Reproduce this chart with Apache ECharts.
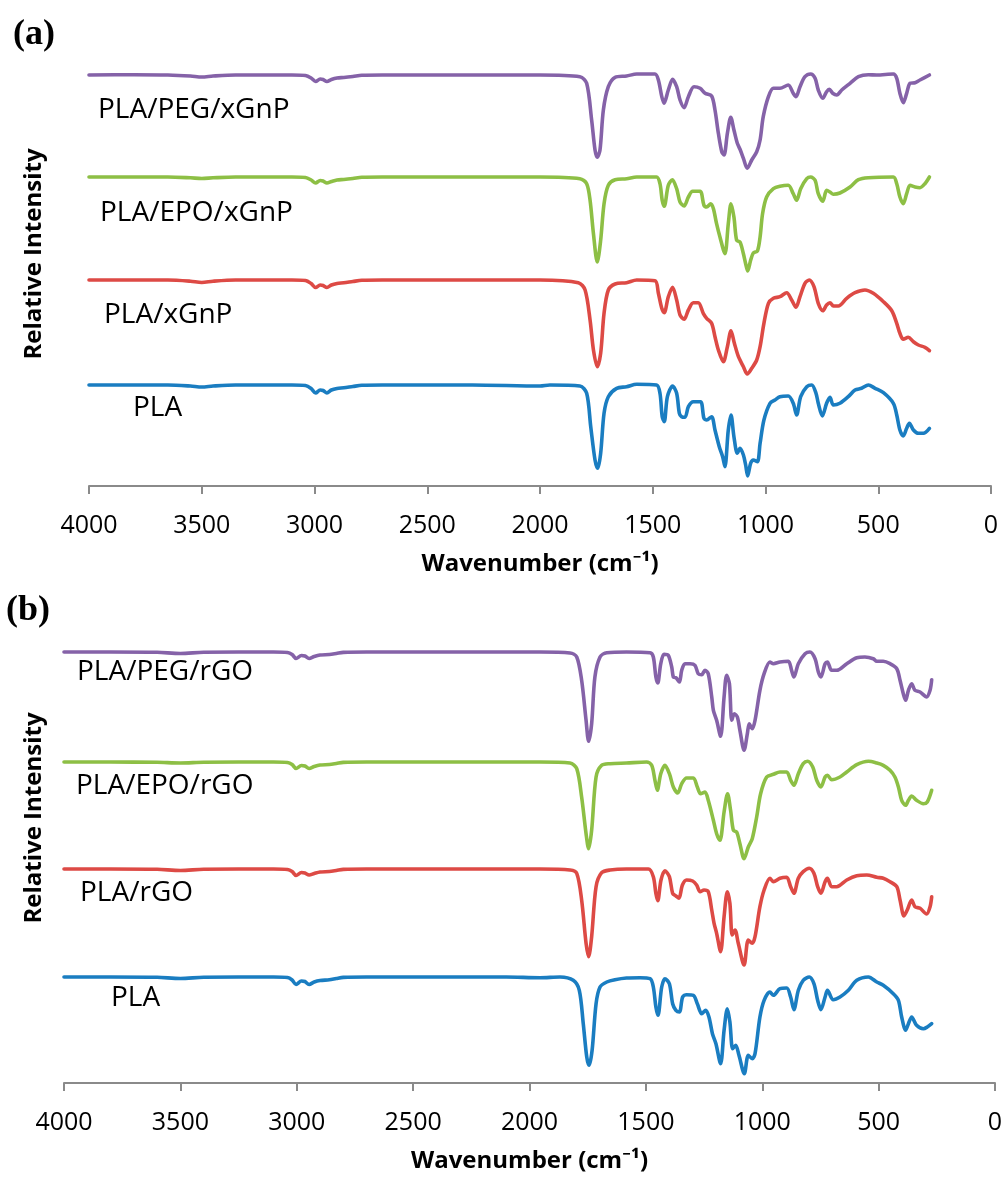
<!DOCTYPE html>
<html>
<head>
<meta charset="utf-8">
<script src="https://cdn.jsdelivr.net/npm/echarts@6/dist/echarts.min.js"></script>
<style>
  html, body { margin: 0; padding: 0; background: #fff; }
  #chart { width: 1006px; height: 1180px; }
</style>
</head>
<body>
<div id="chart"></div>
<script>
// FTIR spectra, [wavenumber (cm-1), relative intensity]; 0 = baseline, negative = absorption dip
const pegXgnp = [
  [4000,0],[3800,0.3],[3650,0],[3550,-1],[3500,-2],[3450,-1],[3350,0],[3100,0],[3040,-0.5],[3015,-3],[2995,-6.5],[2975,-4],[2962,-4.5],[2945,-6.5],[2925,-4.5],[2900,-3],[2870,-2.5],[2830,-1.5],[2790,-0.3],[2700,0],[2300,0],
  [2000,0],[1823,-1.7],[1793,-8.3],[1771,-45],[1756,-75],[1746,-82.3],[1734,-75],[1719,-35],[1697,-11.7],[1667,-2.3],[1616,-1],[1571,1],[1490,1],
  [1475,-5],[1460,-21.7],[1450,-28.3],[1431,-15],[1412,-4.3],[1394,-11.7],[1379,-25],[1361,-32.7],[1342,-21.7],[1317,-11.7],[1290,-13.3],[1268,-18.3],
  [1239,-21],[1224,-35],[1209,-58.3],[1194,-76.7],[1184,-80],[1169,-58.3],[1154,-42.3],[1140,-55],[1125,-68.3],[1113,-74.3],[1098,-83.3],[1081,-93.3],
  [1061,-85],[1039,-76.7],[1024,-65],[1010,-41.7],[987,-21.7],[965,-13.3],[936,-13.3],[899,-10],[877,-18.3],[865,-21.7],[847,-11.7],[825,-1.7],[800,1],
  [780,-3.3],[766,-15],[746,-23.3],[729,-16.7],[717,-14.3],[702,-18.3],[684,-20],[662,-15],[625,-8.3],[588,-1.7],[544,0.3],[507,0],[433,1],
  [418,-3.3],[404,-18.3],[389,-27.7],[374,-18.3],[359,-8.3],[337,-7.7],[315,-5],[273,0]
];
const epoXgnp = [
  [4000,0],[3800,0],[3650,0],[3550,-0.8],[3500,-1.5],[3450,-0.8],[3350,0],[3100,0],[3040,-0.5],[3015,-3],[2995,-6],[2975,-3.5],[2962,-4],[2945,-6],[2925,-4.5],[2900,-3],[2870,-2.5],[2830,-1.5],[2790,-0.3],[2700,0],[2300,0],
  [2000,0],[1823,-1.7],[1793,-6.7],[1778,-23.3],[1763,-56.7],[1746,-85],[1731,-63.3],[1716,-26.7],[1697,-8.3],[1667,-2.7],[1616,-1.7],[1571,0],[1483,0],
  [1468,-6.7],[1458,-23.3],[1449,-29.3],[1431,-8.3],[1413,-2.7],[1394,-11.7],[1379,-25],[1361,-29],[1342,-20],[1323,-14.3],[1290,-14.3],[1273,-28.3],
  [1261,-30],[1243,-26.7],[1231,-31.7],[1217,-46.7],[1202,-60],[1180,-76.7],[1165,-46.7],[1153,-26.7],[1140,-40],[1128,-63.3],[1113,-65],[1098,-76.7],
  [1088,-86.7],[1079,-94],[1066,-83.3],[1054,-76],[1036,-74],[1024,-60],[1013,-36.7],[995,-20],[965,-11.7],[936,-9.3],[899,-8.3],[877,-16.7],[862,-23.3],
  [844,-11.7],[817,-1.7],[800,0],[780,-3.3],[766,-16.7],[746,-24.3],[729,-13.3],[714,-15],[699,-17.3],[670,-16],[625,-10],[588,-2.7],[544,-0.7],[433,0],
  [418,-6.7],[404,-20],[389,-26.7],[374,-16.7],[359,-8.3],[337,-10],[315,-10.7],[293,-6.7],[273,0]
];
const plaXgnp = [
  [4000,0],[3800,0],[3650,0],[3550,-1.2],[3500,-2.5],[3450,-1.2],[3350,0],[3100,0],[3040,-0.5],[3015,-3.5],[2995,-7.5],[2975,-5],[2962,-5.5],[2945,-7.5],[2925,-5],[2900,-3.5],[2870,-2.8],[2830,-1.5],[2790,-0.3],[2700,0],[2300,0],
  [2000,0],[1830,-2.7],[1800,-10],[1778,-40],[1763,-70],[1746,-86.7],[1731,-73.3],[1716,-33.3],[1697,-10],[1667,-4],[1616,-2.7],[1571,0],[1490,-0.7],
  [1475,-13.3],[1460,-28.3],[1449,-32.7],[1431,-16.7],[1412,-7.3],[1394,-20],[1379,-35],[1361,-39.3],[1342,-30],[1320,-22.7],[1298,-22.7],[1276,-33.3],
  [1261,-38.3],[1239,-43.3],[1224,-56.7],[1209,-70],[1187,-81.7],[1169,-66.7],[1153,-50.7],[1138,-63.3],[1120,-76.7],[1098,-86.7],[1081,-94],[1061,-88.3],
  [1039,-80],[1024,-66.7],[1007,-43.3],[987,-23.3],[965,-18.3],[936,-16.7],[906,-12.7],[884,-20],[865,-27.3],[847,-16.7],[825,-3.3],[806,0],[785,-6.7],
  [766,-23.3],[746,-30.7],[729,-25],[714,-22.7],[699,-26],[677,-26],[640,-18.3],[603,-12.7],[559,-10],[522,-13.3],[477,-21.7],[440,-30.7],[418,-43.3],
  [404,-53.3],[389,-59.3],[367,-57.3],[344,-61.7],[322,-65],[293,-67.3],[273,-70.7]
];
const plaA = [
  [4000,0],[3800,0],[3650,0],[3550,-1],[3500,-2],[3450,-1],[3350,0],[3100,0],[3040,-0.5],[3015,-3.5],[2995,-8],[2975,-5],[2962,-5.5],[2945,-8],[2925,-5],[2900,-3.5],[2870,-2.8],[2830,-1.5],[2790,-0.3],[2700,0],[2300,0],
  [2000,-1],[1956,0],[1823,-1],[1793,-8.3],[1775,-41.7],[1756,-75],[1744,-83.3],[1731,-68.3],[1716,-28.3],[1697,-11.7],[1660,-3.3],[1616,-1.7],[1571,0.7],
  [1483,0],[1468,-8.3],[1458,-31.7],[1449,-36.7],[1435,-11.7],[1412,-1],[1394,-8.3],[1382,-28.3],[1372,-31.7],[1357,-32.3],[1342,-21.7],[1320,-16.7],
  [1288,-16.7],[1273,-33.3],[1261,-35],[1239,-31.7],[1224,-45],[1205,-61.7],[1190,-71.7],[1180,-81.7],[1165,-45],[1153,-30],[1140,-51.7],[1125,-68.3],
  [1113,-63.3],[1098,-70],[1088,-80],[1079,-91],[1066,-78.3],[1054,-75],[1036,-76.7],[1024,-58.3],[1007,-35],[980,-18.3],[958,-15],[936,-11.7],[899,-11],
  [877,-18.3],[862,-30],[844,-11.7],[817,-1.7],[795,0],[776,-8.3],[766,-18.3],[748,-31],[729,-18.3],[714,-12.3],[699,-20],[670,-18.3],[633,-11.7],
  [603,-5],[574,-3.3],[544,0],[514,-3.3],[477,-7.7],[433,-18.3],[418,-30],[404,-45],[389,-51],[374,-43.3],[362,-38.3],[344,-45],[322,-48.3],[300,-48.3],[273,-43.3]
];

const pegRgo = [
  [4000,0],[3800,0],[3600,-0.3],[3500,-1.5],[3400,-0.3],[3100,0],[3040,-0.5],[3020,-2.5],[3003,-6.5],[2980,-3.5],[2965,-4],[2947,-6.5],[2925,-4.5],[2900,-3],[2860,-2.5],[2830,-1.5],[2800,-0.4],[2700,0],[2100,0],
  [1955,0],[1826,-1],[1797,-5],[1776,-28.3],[1757,-68.3],[1746,-89.3],[1733,-71.7],[1719,-25],[1697,-5],[1668,-0.7],[1583,0],[1482,-0.7],[1468,-5],
  [1457,-25],[1449,-31],[1436,-11.7],[1422,-2.3],[1404,-3.3],[1389,-15],[1382,-25],[1371,-25.7],[1356,-30],[1346,-18.3],[1332,-11.7],[1310,-11.7],
  [1289,-13.3],[1275,-21.7],[1260,-22.7],[1246,-18.3],[1232,-21.7],[1217,-45],[1210,-58.3],[1196,-68.3],[1179,-84.3],[1164,-45],[1153,-23.3],[1141,-31.7],
  [1131,-68.3],[1120,-61.7],[1107,-65],[1096,-78.3],[1078,-98.3],[1064,-81.7],[1056,-71.7],[1043,-76.7],[1031,-68.3],[1010,-38.3],[992,-21.7],[967,-10],
  [952,-11.7],[924,-10],[888,-9.3],[874,-18.3],[864,-25],[845,-11.7],[816,-1.7],[795,0],[773,-6.7],[759,-20],[748,-25],[730,-11.7],[720,-10],[702,-18.3],
  [680,-18.3],[637,-11.7],[594,-5.7],[559,-5],[523,-6.7],[508,-9.3],[480,-9.3],[451,-11.7],[422,-16.7],[408,-28.3],[394,-41.7],[384,-48.3],[372,-38.3],
  [358,-31.7],[344,-38.3],[322,-40],[294,-45],[279,-38.3],[272,-27.7]
];
const epoRgo = [
  [4000,0],[3800,0],[3600,-0.3],[3500,-1],[3400,-0.3],[3100,0],[3040,-0.5],[3020,-2.5],[3003,-6.5],[2980,-3.5],[2965,-4],[2947,-6.5],[2925,-4.5],[2900,-3],[2860,-2.5],[2830,-1.5],[2800,-0.4],[2700,0],[2100,0],
  [1955,0],[1826,-1],[1797,-6.7],[1776,-35],[1757,-71.7],[1746,-86.7],[1733,-68.3],[1714,-15],[1690,-3.3],[1654,-1.7],[1583,-1],[1497,0],[1475,-3.3],
  [1461,-18.3],[1451,-28.3],[1436,-11.7],[1418,-3.3],[1399,-11.7],[1382,-25],[1363,-31],[1346,-21.7],[1325,-16],[1296,-16],[1279,-25],[1265,-31.7],
  [1246,-30],[1232,-38.3],[1210,-58.3],[1196,-71.7],[1182,-78.3],[1164,-50],[1149,-31.7],[1136,-48.3],[1124,-68.3],[1110,-70],[1096,-81.7],[1078,-96.7],
  [1060,-85],[1043,-76.7],[1024,-55],[1007,-31.7],[981,-15],[952,-12.3],[924,-10],[895,-10],[878,-18.3],[864,-23.3],[845,-11.7],[824,-1.7],[805,0.7],
  [783,-5],[766,-18.3],[748,-25],[730,-15],[720,-13.3],[702,-17.7],[666,-15],[637,-10],[594,-2.7],[544,0.7],[508,-1],[480,-3.3],[451,-8.3],[430,-15],
  [415,-25],[401,-38.3],[384,-43.3],[372,-38.3],[358,-34],[337,-38.3],[308,-41.7],[291,-40],[272,-28.3]
];
const plaRgo = [
  [4000,0],[3800,0],[3600,-0.3],[3500,-1.5],[3400,-0.3],[3100,0],[3040,-0.5],[3020,-2.5],[3003,-6.5],[2980,-3.5],[2965,-4],[2947,-6],[2925,-4.5],[2900,-3],[2860,-2.5],[2830,-1.5],[2800,-0.4],[2700,0],[2100,0],
  [1955,0],[1826,-1],[1797,-4.3],[1776,-31],[1757,-74.3],[1746,-87.7],[1733,-67.7],[1714,-17.7],[1690,-3.7],[1654,-1],[1583,0],[1489,0],[1468,-7.7],
  [1457,-24.3],[1449,-31.7],[1435,-11],[1418,-1.7],[1399,-7.7],[1385,-24.3],[1371,-27],[1358,-29.3],[1343,-16],[1325,-11],[1299,-12],[1282,-16],
  [1267,-22.7],[1250,-21],[1232,-22.7],[1217,-41],[1207,-54.3],[1196,-64.3],[1179,-82.7],[1164,-47.7],[1150,-22.7],[1139,-34.3],[1129,-66],[1117,-61],
  [1103,-74.3],[1078,-96],[1060,-71],[1043,-74.3],[1031,-67.7],[1010,-37.7],[992,-21],[967,-9.3],[952,-12.7],[924,-9.3],[895,-8.3],[878,-17.7],[864,-24.3],
  [845,-9.3],[824,-2.7],[798,0.7],[778,-4.3],[762,-17.7],[748,-24.3],[730,-12.7],[720,-9.3],[702,-17.7],[680,-17.7],[637,-11],[594,-6.7],[551,-6],
  [508,-8.3],[480,-9.3],[451,-12.7],[422,-17.7],[408,-31],[391,-47],[377,-41],[358,-31],[344,-37.7],[322,-39.3],[294,-45],[279,-37.7],[272,-27.7]
];
const plaB = [
  [4000,0],[3800,0],[3600,-0.3],[3500,-1.5],[3400,-0.3],[3100,0],[3040,-0.5],[3020,-3],[3003,-7.5],[2980,-4],[2965,-4.5],[2947,-7.5],[2925,-5],[2900,-3.5],[2860,-2.8],[2830,-1.5],[2800,-0.4],[2700,0],[2100,0],
  [1955,-0.7],[1869,0],[1812,-3.3],[1786,-13.3],[1769,-46.7],[1754,-80],[1744,-88.3],[1731,-73.3],[1714,-26.7],[1697,-10],[1668,-5],[1633,-2.7],[1583,-1],
  [1525,-0.7],[1482,-1.7],[1468,-10],[1457,-30],[1448,-38.3],[1432,-10],[1418,-1.7],[1399,-6.7],[1385,-26.7],[1371,-33.3],[1356,-35],[1342,-20],
  [1325,-17.7],[1296,-18.3],[1279,-26.7],[1260,-36.7],[1243,-33.3],[1229,-40],[1214,-56.7],[1199,-66.7],[1179,-86.7],[1164,-53.3],[1150,-31.7],[1139,-45],
  [1127,-71.7],[1114,-68.3],[1100,-78.3],[1077,-96.7],[1060,-78.3],[1043,-81.7],[1031,-76.7],[1010,-40],[992,-23.3],[967,-15],[952,-18.3],[924,-11.7],
  [895,-11],[878,-20],[864,-32.7],[845,-13.3],[824,-3.3],[798,0],[778,-6.7],[762,-23.3],[748,-32.7],[730,-20],[720,-13.3],[695,-22.7],[666,-20],[630,-13.3],
  [594,-3.3],[544,0],[508,-5],[480,-8.3],[437,-16.7],[415,-23.3],[401,-40],[384,-53.3],[372,-46.7],[358,-40],[337,-48.3],[308,-51.7],[291,-50],[272,-46.7]
];

// vertical offsets of each trace (stacked display)
const offsetsA = [411, 309, 206, 101];
const offsetsB = [431, 321, 214, 106];
const namesA = ['PLA/PEG/xGnP', 'PLA/EPO/xGnP', 'PLA/xGnP', 'PLA'];
const namesB = ['PLA/PEG/rGO', 'PLA/EPO/rGO', 'PLA/rGO', 'PLA'];
const spectraA = [pegXgnp, epoXgnp, plaXgnp, plaA];
const spectraB = [pegRgo, epoRgo, plaRgo, plaB];
const xTicks = { min: 0, max: 4000, interval: 500 };

const colors = ['#8562A8', '#8DBF45', '#DD4A45', '#1A7DC1'];
const axisGray = '#8a8a8a';
const sans = '"Open Sans", "Noto Sans", sans-serif';

function xAxis(gridIndex) {
  return {
    type: 'value', gridIndex, inverse: true,
    min: xTicks.min, max: xTicks.max, interval: xTicks.interval,
    name: 'Wavenumber (cm\u207B\u00B9)', nameLocation: 'middle', nameGap: 66,
    nameTextStyle: { color: '#000', fontFamily: sans, fontWeight: 'bold', fontSize: 24 },
    axisLine: { lineStyle: { color: axisGray, width: 2 } },
    axisTick: { show: true, length: 8, lineStyle: { color: axisGray, width: 2 } },
    axisLabel: { color: '#000', fontFamily: sans, fontSize: 25, margin: 27, formatter: v => String(v) },
    splitLine: { show: false }
  };
}

function seriesFor(spectra, offsets, idx) {
  return spectra.map((s, i) => ({
    name: (idx ? namesB : namesA)[i],
    type: 'line', xAxisIndex: idx, yAxisIndex: idx,
    data: s.map(p => [p[0], p[1] + offsets[i]]),
    showSymbol: false, smooth: 0.3,
    lineStyle: { color: colors[i], width: 3.6, cap: 'round', join: 'round' },
    itemStyle: { color: colors[i] },
    silent: true
  }));
}

function label(text, x, y, font) {
  return {
    type: 'text', x, y,
    style: { text, font, fill: '#000', textAlign: 'left', textVerticalAlign: 'middle' }
  };
}

function vtitle(y) {
  return {
    type: 'text', x: 34, y, rotation: Math.PI / 2,
    style: { text: 'Relative Intensity', font: titleFont, fill: '#000', textAlign: 'center', textVerticalAlign: 'middle' }
  };
}

const chart = echarts.init(document.getElementById('chart'), null, { renderer: 'canvas' });
const labelFont = '28px ' + sans;
const titleFont = 'bold 24px ' + sans;
const panelFont = 'bold 36px "Liberation Serif", "Times New Roman", serif';

chart.setOption({
  animation: false,
  backgroundColor: '#fff',
  grid: [
    { left: 89, top: 66, width: 902, height: 420 },
    { left: 64, top: 623, width: 931, height: 460 }
  ],
  xAxis: [xAxis(0), xAxis(1)],
  yAxis: [
    { type: 'value', gridIndex: 0, min: 0, max: 420, show: false },
    { type: 'value', gridIndex: 1, min: 0, max: 460, show: false }
  ],
  series: seriesFor(spectraA, offsetsA, 0).concat(seriesFor(spectraB, offsetsB, 1)),
  graphic: [
    label('(a)', 13, 35, panelFont),
    label('(b)', 6, 611, panelFont),
    label(namesA[0], 98, 110, labelFont),
    label(namesA[1], 100, 213, labelFont),
    label(namesA[2], 104, 315, labelFont),
    label(namesA[3], 133, 408, labelFont),
    label(namesB[0], 77, 672, labelFont),
    label(namesB[1], 76, 786, labelFont),
    label(namesB[2], 80, 893, labelFont),
    label(namesB[3], 111, 998, labelFont),
    vtitle(254),
    vtitle(818)
  ]
});
</script>
</body>
</html>
